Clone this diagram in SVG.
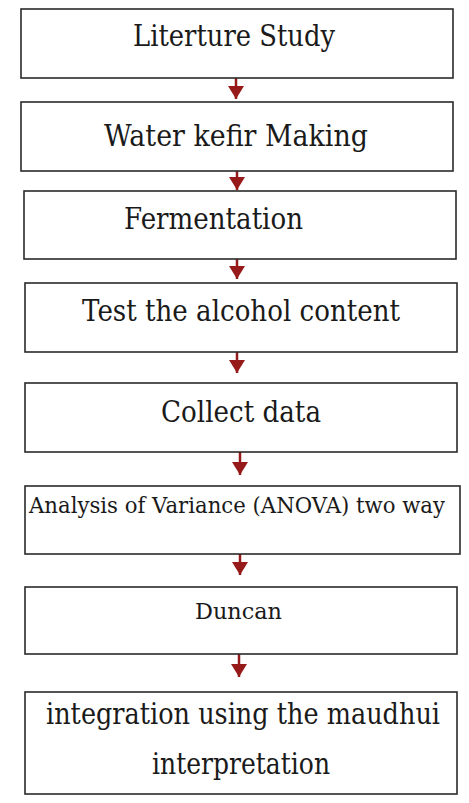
<svg xmlns="http://www.w3.org/2000/svg" width="469" height="803" viewBox="0 0 469 803">
<style>
  .box { fill: #ffffff; stroke: #2a2a2a; stroke-width: 1.6; }
  .lbl { font-family: "DejaVu Serif", "Liberation Serif", serif; fill: #1a1a1a; }
  .big { font-size: 30px; }
  .sm { font-size: 23px; }
  .conn { stroke: #961a1a; stroke-width: 2.5; fill: none; marker-end: url(#ah); }
</style>
<defs>
  <marker id="ah" markerUnits="userSpaceOnUse" markerWidth="14" markerHeight="17" refX="13" refY="8" orient="auto" viewBox="0 0 14 17">
    <path d="M0,0 L13,8 L0,16 z" fill="#961a1a"/>
  </marker>
</defs>
<rect width="469" height="803" fill="#ffffff"/>
<g id="connectors">
  <line class="conn" x1="236" y1="78" x2="236" y2="99"/>
  <line class="conn" x1="237" y1="171" x2="237" y2="190"/>
  <line class="conn" x1="237" y1="259" x2="237" y2="279"/>
  <line class="conn" x1="237" y1="352" x2="237" y2="373"/>
  <line class="conn" x1="240" y1="452" x2="240" y2="475"/>
  <line class="conn" x1="240" y1="554" x2="240" y2="575"/>
  <line class="conn" x1="239" y1="654" x2="239" y2="677"/>
</g>
<g id="n1">
  <rect class="box" x="21" y="9" width="432" height="69"/>
  <text class="lbl big" x="133" y="46" textLength="202" lengthAdjust="spacingAndGlyphs">Literture Study</text>
</g>
<g id="n2">
  <rect class="box" x="21" y="102" width="432" height="69"/>
  <text class="lbl big" x="104" y="146" textLength="264" lengthAdjust="spacingAndGlyphs">Water kefir Making</text>
</g>
<g id="n3">
  <rect class="box" x="24" y="191" width="432" height="68"/>
  <text class="lbl big" x="124" y="229" textLength="179" lengthAdjust="spacingAndGlyphs">Fermentation</text>
</g>
<g id="n4">
  <rect class="box" x="25" y="283" width="432" height="69"/>
  <text class="lbl big" x="82" y="321" textLength="318" lengthAdjust="spacingAndGlyphs">Test the alcohol content</text>
</g>
<g id="n5">
  <rect class="box" x="25" y="383" width="432" height="69"/>
  <text class="lbl big" x="161" y="422" textLength="160" lengthAdjust="spacingAndGlyphs">Collect data</text>
</g>
<g id="n6">
  <rect class="box" x="25" y="486" width="435" height="68"/>
  <text class="lbl" font-size="21" transform="translate(29,513) scale(1,1.1)" x="0" y="0" textLength="416" lengthAdjust="spacingAndGlyphs">Analysis of Variance (ANOVA) two way</text>
</g>
<g id="n7">
  <rect class="box" x="25" y="587" width="432" height="67"/>
  <text class="lbl sm" x="195" y="619" textLength="87" lengthAdjust="spacingAndGlyphs">Duncan</text>
</g>
<g id="n8">
  <rect class="box" x="25" y="692" width="432" height="102"/>
  <text class="lbl" font-size="25.5" transform="translate(46,724) scale(1,1.18)" x="0" y="0" textLength="394" lengthAdjust="spacingAndGlyphs">integration using the maudhui</text>
  <text class="lbl big" x="152" y="774" textLength="178" lengthAdjust="spacingAndGlyphs">interpretation</text>
</g>
</svg>
